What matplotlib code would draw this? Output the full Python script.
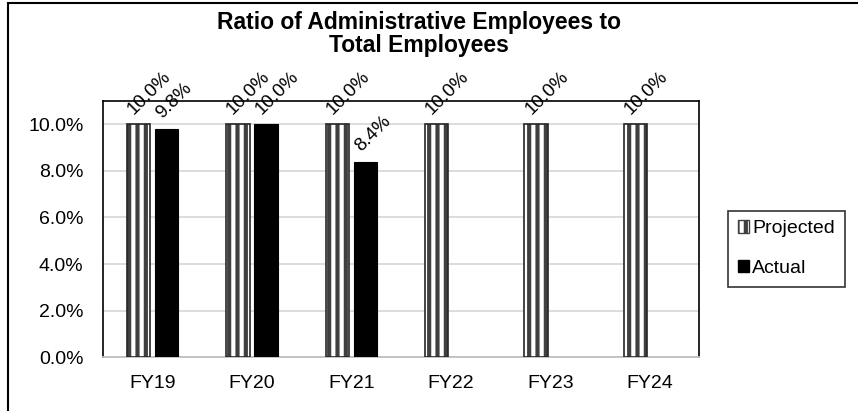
import matplotlib.pyplot as plt
import matplotlib.patches as mpatches
import numpy as np

plt.rcParams['font.family'] = ['Liberation Sans', 'DejaVu Sans']
plt.rcParams['hatch.linewidth'] = 3.0

categories = ['FY19', 'FY20', 'FY21', 'FY22', 'FY23', 'FY24']
projected = [0.100, 0.100, 0.100, 0.100, 0.100, 0.100]
actual = [0.098, 0.100, 0.084]
y_ticks = [0.0, 0.02, 0.04, 0.06, 0.08, 0.10]

fig = plt.figure(figsize=(8.58, 4.11), dpi=100)
ax = fig.add_axes([0.120, 0.131, 0.695, 0.623])

x = np.arange(len(categories))
x_act = np.arange(len(actual))
width = 0.235
off = 0.142

# projected: striped fill, then a dark outline on top
ax.bar(x - off, projected, width, color='white', edgecolor='#404040',
       hatch='||', linewidth=0, zorder=3)
ax.bar(x - off, projected, width, color='none', edgecolor='#262626',
       linewidth=1.2, zorder=4)
ax.bar(x_act + off, actual, width, color='black', edgecolor='black',
       linewidth=0.8, zorder=3)

# rotated value labels, anchored at the start of the baseline
def value_labels(xs, vals):
    for xi, v in zip(xs, vals):
        ax.annotate(f'{v * 100:.1f}%', (xi, v), xytext=(-3.5, 7),
                    textcoords='offset points', rotation=45,
                    rotation_mode='anchor', ha='left', va='baseline',
                    fontsize=13.5, annotation_clip=False)

value_labels(x - off, projected)
value_labels(x_act + off, actual)

ax.set_xlim(-0.5, len(categories) - 0.5)
ax.set_ylim(0, 0.11)
ax.set_yticks(y_ticks)
ax.set_yticklabels([f'{t * 100:.1f}%' for t in y_ticks])
ax.set_xticks(x)
ax.set_xticklabels(categories)
ax.tick_params(axis='both', length=0, labelsize=14)
ax.tick_params(axis='y', pad=14)
ax.tick_params(axis='x', pad=13)
ax.grid(axis='y', color='#d9d9d9', linewidth=1.3, zorder=0)
ax.set_axisbelow(True)

for side in ['top', 'left', 'right']:
    ax.spines[side].set_color('black')
    ax.spines[side].set_linewidth(1.2)
ax.spines['bottom'].set_color('#bfbfbf')
ax.spines['bottom'].set_linewidth(1.3)

fig.text(0.488, 0.917, 'Ratio of Administrative Employees to\nTotal Employees',
         ha='center', va='center', fontsize=16.5, fontweight='bold',
         linespacing=1.0)

handles = [mpatches.Patch(facecolor='white', edgecolor='#404040', hatch='||',
                          label='Projected'),
           mpatches.Patch(facecolor='black', edgecolor='black', label='Actual')]
leg = fig.legend(handles=handles, loc='center left',
                 bbox_to_anchor=(728 / 858, 0.395), fontsize=14,
                 frameon=True, fancybox=False, handlelength=0.6,
                 handleheight=0.6, handletextpad=0.15, labelspacing=1.15,
                 borderpad=0.5, borderaxespad=0)
leg.get_frame().set_edgecolor('black')
leg.get_frame().set_linewidth(1.2)

# chart area border
fig.patches.append(mpatches.Rectangle((8 / 858, -0.1), 1.2, 1.1 - 3 / 411,
                                      transform=fig.transFigure, fill=False,
                                      edgecolor='black', linewidth=1.5))

fig.savefig('out.png', dpi=100)
